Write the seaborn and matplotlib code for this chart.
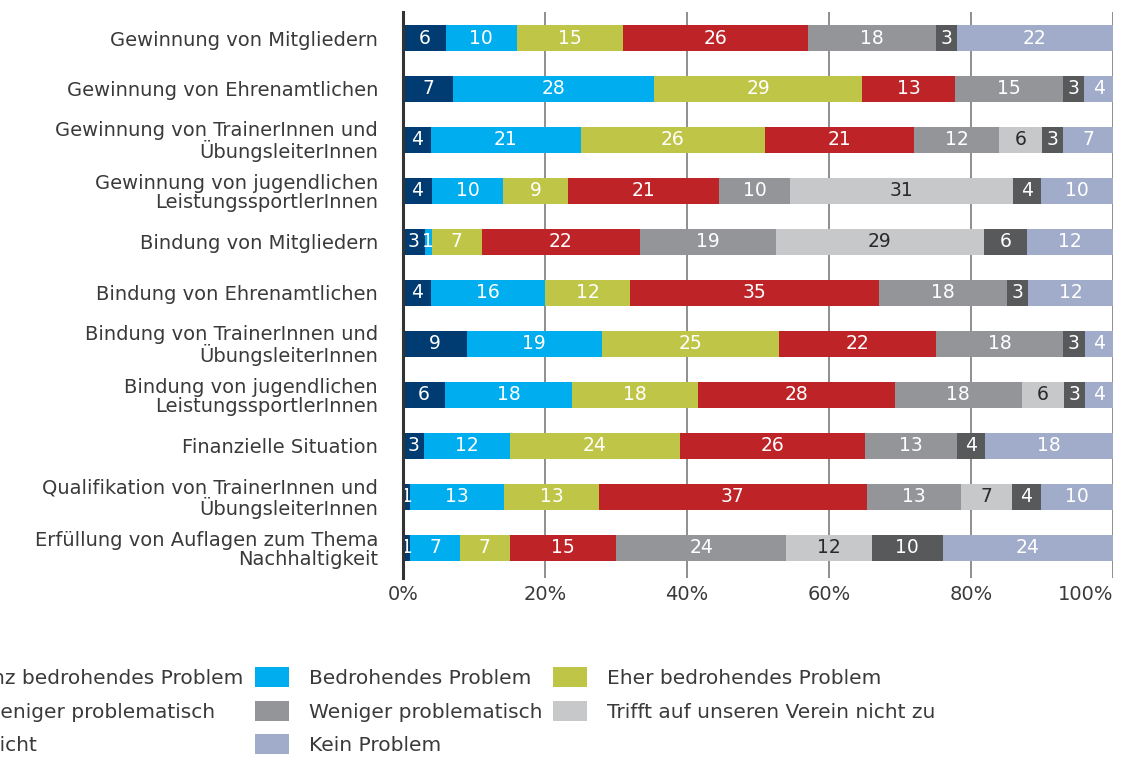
import numpy as np
import pandas as pd
import matplotlib
matplotlib.use("Agg")
import matplotlib.pyplot as plt
from matplotlib.patches import Patch
import seaborn as sns

categories = [
    "Gewinnung von Mitgliedern",
    "Gewinnung von Ehrenamtlichen",
    "Gewinnung von TrainerInnen und\nÜbungsleiterInnen",
    "Gewinnung von jugendlichen\nLeistungssportlerInnen",
    "Bindung von Mitgliedern",
    "Bindung von Ehrenamtlichen",
    "Bindung von TrainerInnen und\nÜbungsleiterInnen",
    "Bindung von jugendlichen\nLeistungssportlerInnen",
    "Finanzielle Situation",
    "Qualifikation von TrainerInnen und\nÜbungsleiterInnen",
    "Erfüllung von Auflagen zum Thema\nNachhaltigkeit",
]

responses = [
    "Existenz bedrohendes Problem",
    "Bedrohendes Problem",
    "Eher bedrohendes Problem",
    "Eher weniger problematisch",
    "Weniger problematisch",
    "Trifft auf unseren Verein nicht zu",
    "Weiß nicht",
    "Kein Problem",
]

existenz = [6, 7, 4, 4, 3, 4, 9, 6, 3, 1, 1]
bedrohend = [10, 28, 21, 10, 1, 16, 19, 18, 12, 13, 7]
eher_bedrohend = [15, 29, 26, 9, 7, 12, 25, 18, 24, 13, 7]
eher_weniger = [26, 13, 21, 21, 22, 35, 22, 28, 26, 37, 15]
weniger = [18, 15, 12, 10, 19, 18, 18, 18, 13, 13, 24]
trifft_nicht = [0, 0, 6, 31, 29, 0, 0, 6, 0, 7, 12]
weiss_nicht = [3, 3, 3, 4, 6, 3, 3, 3, 4, 4, 10]
kein_problem = [22, 4, 7, 10, 12, 12, 4, 4, 18, 10, 24]

x_ticks = [0, 20, 40, 60, 80, 100]
x_ticklabels = ["0%", "20%", "40%", "60%", "80%", "100%"]

colors = ["#003c71", "#00aeef", "#bfc547", "#be2327",
          "#939598", "#c7c8ca", "#58595b", "#a1acca"]
label_colors = ["white", "white", "white", "white",
                "white", "#2a2a2a", "white", "white"]

series = [existenz, bedrohend, eher_bedrohend, eher_weniger,
          weniger, trifft_nicht, weiss_nicht, kein_problem]

vals = np.array(series, dtype=float).T  # rows = categories
shares = vals / vals.sum(axis=1, keepdims=True) * 100
cum = np.cumsum(shares, axis=1)

rows = []
for i, c in enumerate(categories):
    for j, r in enumerate(responses):
        rows.append({"category": c, "response": r, "value": vals[i, j],
                     "share": shares[i, j], "cum": cum[i, j]})
df = pd.DataFrame(rows)

sns.set_theme(style="white")
plt.rcParams["font.family"] = ["DejaVu Sans"]
text_color = "#3a3a3a"

fig = plt.figure(figsize=(11.41, 7.57), dpi=100)
ax = fig.add_axes([403 / 1141, 1 - 578 / 757, 710 / 1141, 566 / 757])

for j in range(len(responses) - 1, -1, -1):
    sub = df[df["response"] == responses[j]]
    sns.barplot(data=sub, x="cum", y="category", order=categories,
                orient="h", color=colors[j], saturation=1, width=0.51,
                errorbar=None, linewidth=0, ax=ax, zorder=3)

for _, row in df.iterrows():
    if row["value"] <= 0:
        continue
    j = responses.index(row["response"])
    i = categories.index(row["category"])
    ax.text(row["cum"] - row["share"] / 2, i, f"{int(row['value'])}",
            ha="center", va="center", fontsize=13.5,
            color=label_colors[j], zorder=5)

ax.set_xlim(0, 100)
ax.set_ylim(10.59, -0.51)
ax.set_xticks(x_ticks)
ax.set_xticklabels(x_ticklabels)
ax.get_xticklabels()[-1].set_horizontalalignment("right")
ax.set_xlabel("")
ax.set_ylabel("")
ax.xaxis.grid(True, color="#707070", linewidth=1.1, zorder=0)
ax.yaxis.grid(False)
ax.set_axisbelow(True)
for s in ["top", "right", "bottom"]:
    ax.spines[s].set_visible(False)
ax.spines["left"].set_color("#333333")
ax.spines["left"].set_linewidth(2.2)
ax.spines["left"].set_zorder(6)
ax.tick_params(axis="x", length=0, pad=5, labelsize=14, colors=text_color)
ax.tick_params(axis="y", length=0, pad=18, labelsize=14, colors=text_color)
for t in ax.get_yticklabels():
    t.set_linespacing(1.0)

def make_handles(idx):
    return [Patch(facecolor=colors[k], edgecolor="none", label=responses[k]) for k in idx]

leg_kw = dict(frameon=False, fontsize=14.5, handlelength=1.7, handleheight=1.15,
              handletextpad=1.0, labelspacing=0.64, borderpad=0,
              borderaxespad=0, labelcolor=text_color)
ytop = 1 - 667 / 757
fig.legend(handles=make_handles([0, 3, 6]), loc="upper right",
           bbox_to_anchor=(243 / 1141, ytop), **leg_kw)
fig.legend(handles=make_handles([1, 4, 7]), loc="upper left",
           bbox_to_anchor=(255 / 1141, ytop), **leg_kw)
fig.legend(handles=make_handles([2, 5]), loc="upper left",
           bbox_to_anchor=(553 / 1141, ytop), **leg_kw)

fig.savefig("out.png", dpi=100)
